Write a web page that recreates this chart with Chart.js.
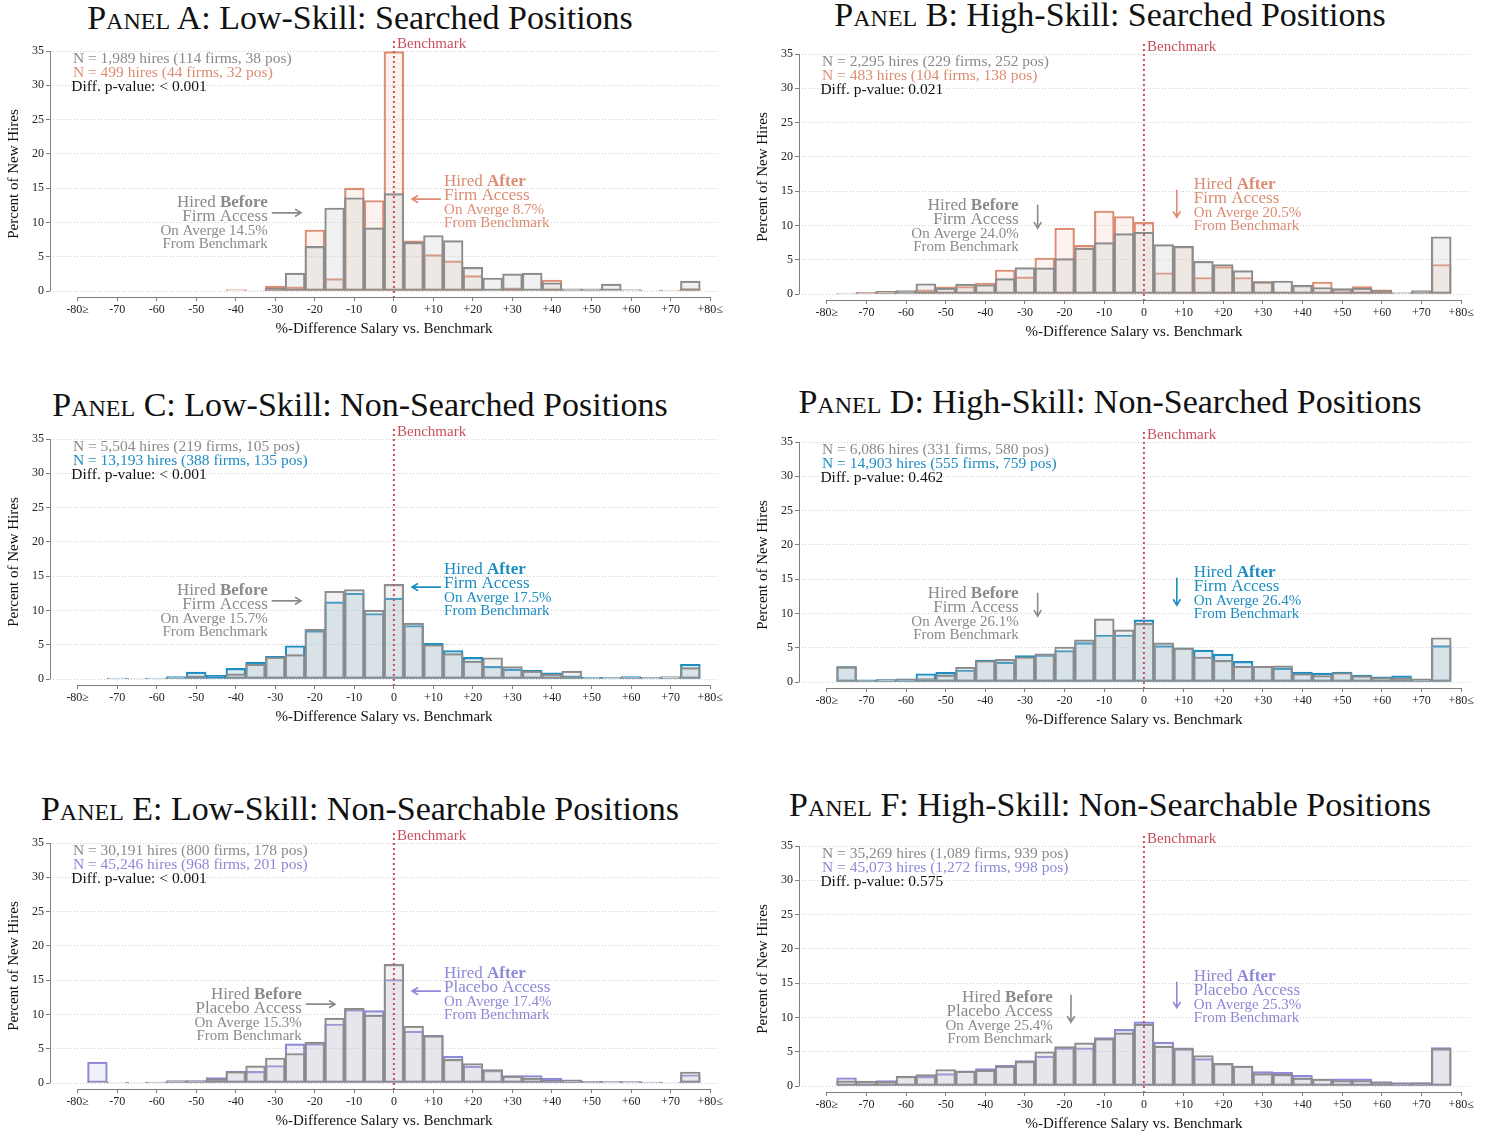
<!DOCTYPE html>
<html>
<head>
<meta charset="utf-8">
<script src="https://cdn.jsdelivr.net/npm/chart.js@4.4.0/dist/chart.umd.min.js"></script>
<style>
  body { margin: 0; background: #fff; }
  #page { position: relative; width: 1489px; height: 1132px; overflow: hidden; }
  .title { position: absolute; width: 720px; text-align: center; font-family: "Liberation Serif", serif; font-size: 34px; line-height: 1; color: #111; white-space: nowrap; }
  .title span { font-variant: small-caps; }
  canvas { position: absolute; }
</style>
</head>
<body>
<div id="page">
  <div class="title" style="left:0; top:1px"><span>Panel</span> A: Low-Skill: Searched Positions</div>
  <div class="title" style="left:750px; top:-2px"><span>Panel</span> B: High-Skill: Searched Positions</div>
  <div class="title" style="left:0; top:388px"><span>Panel</span> C: Low-Skill: Non-Searched Positions</div>
  <div class="title" style="left:750px; top:385px"><span>Panel</span> D: High-Skill: Non-Searched Positions</div>
  <div class="title" style="left:0; top:792px"><span>Panel</span> E: Low-Skill: Non-Searchable Positions</div>
  <div class="title" style="left:750px; top:788px"><span>Panel</span> F: High-Skill: Non-Searchable Positions</div>
  <canvas id="panelA" width="740" height="345" style="left:0; top:0"></canvas>
  <canvas id="panelB" width="744" height="345" style="left:745px; top:3px"></canvas>
  <canvas id="panelC" width="740" height="345" style="left:0; top:388px"></canvas>
  <canvas id="panelD" width="744" height="345" style="left:745px; top:391px"></canvas>
  <canvas id="panelE" width="740" height="345" style="left:0; top:792px"></canvas>
  <canvas id="panelF" width="744" height="345" style="left:745px; top:795px"></canvas>
</div>
<script>
// bin centres (% difference vs benchmark), outer bins hold everything beyond
const bins = [-75, -70, -65, -60, -55, -50, -45, -40, -35, -30, -25, -20, -15, -10, -5, 0,
              5, 10, 15, 20, 25, 30, 35, 40, 45, 50, 55, 60, 65, 70, 75];
const xTicks = [-80, -70, -60, -50, -40, -30, -20, -10, 0, 10, 20, 30, 40, 50, 60, 70, 80];
const yTicks = [0, 5, 10, 15, 20, 25, 30, 35];

// percent of new hires per bin
const aBefore = [0, 0, 0, 0, 0, 0, 0, 0, 0.1, 0.45, 2.6, 6.5, 12.1, 13.6, 9.2, 14.2,
                 7.1, 8.1, 7.35, 3.45, 1.9, 2.5, 2.6, 1.2, 0.3, 0.3, 1.0, 0.2, 0.05, 0.05, 1.45];
const aAfter = [0, 0, 0, 0, 0, 0, 0, 0.2, 0, 0.7, 0.6, 8.9, 1.8, 15.0, 13.2, 34.9,
                7.3, 5.3, 4.4, 2.25, 0.2, 0.45, 0.2, 1.6, 0.1, 0.15, 0, 0, 0, 0.15, 0.35];
const bBefore = [0.15, 0.2, 0.4, 0.5, 1.5, 0.85, 1.45, 1.35, 2.25, 3.85, 3.8, 5.15, 6.7, 7.5, 8.8, 9.0,
                 7.2, 6.95, 4.75, 4.3, 3.4, 1.8, 1.9, 1.25, 0.95, 0.8, 0.85, 0.5, 0.2, 0.5, 8.35];
const bAfter = [0, 0.25, 0.25, 0.2, 0.6, 1.05, 1.1, 1.6, 3.5, 2.5, 5.25, 9.6, 7.1, 12.1, 11.3, 10.45,
                3.1, 7.0, 2.4, 4.0, 2.4, 1.8, 0.3, 1.3, 1.75, 0.7, 1.1, 0.6, 0.1, 0.2, 4.3];
const cBefore = [0, 0.1, 0.1, 0.1, 0.2, 0.45, 0.15, 0.75, 2.15, 3.2, 3.55, 7.25, 12.8, 13.05, 10.05, 13.8,
                 8.15, 5.0, 3.7, 2.6, 3.1, 1.8, 1.15, 0.7, 1.15, 0.15, 0.2, 0.25, 0.2, 0.35, 1.65];
const cAfter = [0, 0.15, 0.1, 0.15, 0.35, 1.0, 0.55, 1.55, 2.45, 3.3, 4.85, 7.05, 11.25, 12.5, 9.55, 11.8,
                7.8, 5.2, 4.15, 3.15, 1.85, 1.45, 1.25, 0.9, 0.45, 0.25, 0.2, 0.35, 0.2, 0.15, 2.15];
const dBefore = [2.25, 0.25, 0.35, 0.4, 0.5, 1.0, 2.15, 3.1, 3.3, 3.65, 4.1, 5.1, 6.15, 9.2, 7.6, 8.55,
                 5.7, 4.95, 3.65, 3.15, 2.3, 2.3, 2.35, 1.2, 0.95, 1.35, 0.9, 0.65, 0.6, 0.45, 6.45];
const dAfter = [2.25, 0.3, 0.35, 0.45, 1.2, 1.4, 1.75, 3.2, 2.9, 3.85, 3.95, 4.6, 5.75, 6.85, 6.85, 9.05,
                5.3, 5.0, 4.65, 4.05, 3.0, 2.3, 2.0, 1.45, 1.3, 1.45, 1.0, 0.75, 0.9, 0.35, 5.3];
const eBefore = [0.2, 0.1, 0.1, 0.15, 0.35, 0.3, 0.6, 1.65, 2.5, 3.65, 4.3, 5.95, 9.45, 10.9, 9.9, 17.3,
                 8.3, 6.9, 3.45, 2.85, 1.95, 1.0, 0.7, 0.4, 0.4, 0.25, 0.2, 0.2, 0.15, 0.1, 1.6];
const eAfter = [3.05, 0.1, 0.1, 0.15, 0.25, 0.35, 0.8, 1.75, 1.7, 2.55, 5.7, 5.75, 8.6, 10.7, 10.55, 15.1,
                7.55, 6.95, 3.9, 2.45, 1.85, 1.1, 1.1, 0.7, 0.45, 0.25, 0.2, 0.2, 0.15, 0.1, 1.2];
const fBefore = [0.75, 0.7, 0.65, 1.4, 1.65, 2.4, 2.15, 2.3, 2.9, 3.6, 5.0, 5.75, 6.3, 6.9, 7.75, 9.0,
                 5.8, 5.45, 4.45, 3.3, 2.9, 1.8, 1.7, 1.15, 1.0, 0.8, 0.8, 0.55, 0.4, 0.45, 5.45];
const fAfter = [1.2, 0.35, 0.8, 1.45, 1.4, 1.8, 2.2, 2.55, 3.0, 3.7, 4.35, 5.55, 5.55, 7.05, 8.25, 9.35,
                6.4, 5.55, 4.0, 3.3, 2.9, 2.1, 2.0, 1.55, 1.0, 1.05, 1.05, 0.65, 0.5, 0.5, 5.6];

const FONT = '"Liberation Serif", "Times New Roman", serif';
const GRAY = "#8a8a8a", GRAY_TEXT = "#8a8a8a", GRAY_FILL = "rgba(200,200,200,0.25)";
const ORANGE = "#dc8c72", ORANGE_FILL = "rgba(236,170,150,0.14)";
const BLUE = "#1c8dc2", BLUE_FILL = "rgba(110,165,195,0.22)";
const PURPLE = "#8d89d6", PURPLE_FILL = "rgba(170,170,215,0.18)";
const RED = "#c8505c";

function richText(ctx, parts, x, y, align, size, color) {
    let w = 0;
    parts.forEach(([t, bold]) => {
        ctx.font = (bold ? "bold " : "") + size + "px " + FONT;
        w += ctx.measureText(t).width;
    });
    let cx = align === "right" ? x - w : x;
    ctx.fillStyle = color;
    ctx.textAlign = "left";
    ctx.textBaseline = "middle";
    parts.forEach(([t, bold]) => {
        ctx.font = (bold ? "bold " : "") + size + "px " + FONT;
        ctx.fillText(t, cx, y);
        cx += ctx.measureText(t).width;
    });
}

function arrow(ctx, x1, y1, x2, y2, color) {
    const a = Math.atan2(y2 - y1, x2 - x1);
    const h = 7;
    ctx.strokeStyle = color;
    ctx.lineWidth = 1.6;
    ctx.beginPath();
    ctx.moveTo(x1, y1);
    ctx.lineTo(x2, y2);
    ctx.moveTo(x2 - h * Math.cos(a - 0.55), y2 - h * Math.sin(a - 0.55));
    ctx.lineTo(x2, y2);
    ctx.lineTo(x2 - h * Math.cos(a + 0.55), y2 - h * Math.sin(a + 0.55));
    ctx.stroke();
}

// axes, benchmark line and the text notes, placed in data units
function notesPlugin(n) {
    return {
        id: "notes",
        afterDatasetsDraw(chart) {
            const { ctx, chartArea, scales } = chart;
            const px = (v) => scales.x.getPixelForValue(v);
            const py = (v) => scales.y.getPixelForValue(v);
            ctx.save();
            ctx.strokeStyle = "#7f7f7f";
            ctx.lineWidth = 1;
            ctx.beginPath();
            ctx.moveTo(chartArea.left + 0.5, py(0));
            ctx.lineTo(chartArea.left + 0.5, py(35));
            ctx.moveTo(px(-80), chartArea.bottom + 0.5);
            ctx.lineTo(px(80), chartArea.bottom + 0.5);
            ctx.stroke();

            ctx.strokeStyle = RED;
            ctx.lineWidth = 2;
            ctx.setLineDash([2, 3]);
            ctx.beginPath();
            ctx.moveTo(px(0), chartArea.top - 10);
            ctx.lineTo(px(0), chartArea.bottom);
            ctx.stroke();
            ctx.setLineDash([]);
            richText(ctx, [["Benchmark", false]], px(0.8), py(36), "left", 15, RED);

            richText(ctx, [[n.nBefore, false]], px(-81.2), py(33.8), "left", 15.5, GRAY_TEXT);
            richText(ctx, [[n.nAfter, false]], px(-81.2), py(31.8), "left", 15.5, n.color);
            richText(ctx, [[n.pval, false]], px(-81.6), py(29.75), "left", 15.5, "#111");

            const bx = px(n.beforeX), ax = px(n.afterX);
            richText(ctx, [["Hired ", false], ["Before", true]], bx, py(12.83), "right", 17, GRAY_TEXT);
            richText(ctx, [[n.access, false]], bx, py(10.8), "right", 17, GRAY_TEXT);
            richText(ctx, [[n.avgBefore, false]], bx, py(8.8), "right", 15, GRAY_TEXT);
            richText(ctx, [["From Benchmark", false]], bx, py(6.85), "right", 15, GRAY_TEXT);
            richText(ctx, [["Hired ", false], ["After", true]], ax, py(15.9), "left", 17, n.color);
            richText(ctx, [[n.access, false]], ax, py(13.85), "left", 17, n.color);
            richText(ctx, [[n.avgAfter, false]], ax, py(11.8), "left", 15, n.color);
            richText(ctx, [["From Benchmark", false]], ax, py(9.9), "left", 15, n.color);

            const b = n.beforeArrow, a = n.afterArrow;
            arrow(ctx, px(b[0]), py(b[1]), px(b[2]), py(b[3]), GRAY);
            arrow(ctx, px(a[0]), py(a[1]), px(a[2]), py(a[3]), n.color);
            ctx.restore();
        },
    };
}

function makePanel(id, before, after, color, fill, yWidth, padRight, n) {
    const ctx = document.getElementById(id).getContext("2d");
    n.color = color;
    return new Chart(ctx, {
        type: "bar",
        data: {
            labels: bins,
            datasets: [
                { data: before, backgroundColor: GRAY_FILL, borderColor: GRAY, borderWidth: 1.5, borderSkipped: false },
                { data: after, backgroundColor: fill, borderColor: color, borderWidth: 1.5, borderSkipped: false },
            ],
        },
        options: {
            responsive: false,
            animation: false,
            layout: { padding: { top: 51, right: padRight, left: 0, bottom: 0 } },
            datasets: { bar: { grouped: false, barPercentage: 1, categoryPercentage: 1 } },
            plugins: { legend: { display: false }, tooltip: { enabled: false } },
            scales: {
                x: {
                    type: "linear",
                    offset: false,
                    min: -87,
                    max: 82,
                    afterBuildTicks: (axis) => { axis.ticks = xTicks.map((v) => ({ value: v })); },
                    afterFit: (axis) => { axis.height = 48; },
                    grid: { offset: false, drawOnChartArea: false, drawTicks: true, tickLength: 4, color: "#7f7f7f" },
                    border: { display: false },
                    ticks: {
                        autoSkip: false,
                        maxRotation: 0,
                        padding: 2,
                        color: "#222",
                        font: { family: FONT, size: 12 },
                        callback: (v) => (v === -80 ? "-80≥" : v === 80 ? "+80≤" : v > 0 ? "+" + v : String(v)),
                    },
                    title: {
                        display: true,
                        text: "%-Difference Salary vs. Benchmark",
                        color: "#111",
                        font: { family: FONT, size: 15 },
                        padding: { top: 0, bottom: 7 },
                    },
                },
                y: {
                    min: -0.875,
                    max: 35,
                    afterBuildTicks: (axis) => { axis.ticks = yTicks.map((v) => ({ value: v })); },
                    afterFit: (axis) => { axis.width = yWidth; },
                    grid: { color: "#cfcfcf", tickLength: 4, tickColor: "#7f7f7f", tickBorderDash: [] },
                    border: { display: false, dash: [1, 2] },
                    ticks: { padding: 2, color: "#222", font: { family: FONT, size: 12 } },
                    title: {
                        display: true,
                        text: "Percent of New Hires",
                        color: "#111",
                        font: { family: FONT, size: 15 },
                        padding: { top: yWidth - 45, bottom: 0 },
                    },
                },
            },
        },
        plugins: [notesPlugin(n)],
    });
}

const charts = [];
charts.push(makePanel("panelA", aBefore, aAfter, ORANGE, ORANGE_FILL, 50, 22, {
    nBefore: "N = 1,989 hires (114 firms, 38 pos)", nAfter: "N = 499 hires (44 firms, 32 pos)",
    pval: "Diff. p-value: < 0.001", access: "Firm Access",
    avgBefore: "On Averge 14.5%", avgAfter: "On Averge 8.7%",
    beforeX: -31.9, afterX: 12.7,
    beforeArrow: [-30.9, 11.4, -23.5, 11.4], afterArrow: [11.9, 13.4, 4.6, 13.4],
}));
charts.push(makePanel("panelB", bBefore, bAfter, ORANGE, ORANGE_FILL, 54, 20, {
    nBefore: "N = 2,295 hires (229 firms, 252 pos)", nAfter: "N = 483 hires (104 firms, 138 pos)",
    pval: "Diff. p-value: 0.021", access: "Firm Access",
    avgBefore: "On Averge 24.0%", avgAfter: "On Averge 20.5%",
    beforeX: -31.6, afterX: 12.6,
    beforeArrow: [-26.8, 13.0, -26.8, 9.6], afterArrow: [8.3, 15.2, 8.3, 11.2],
}));
charts.push(makePanel("panelC", cBefore, cAfter, BLUE, BLUE_FILL, 50, 22, {
    nBefore: "N = 5,504 hires (219 firms, 105 pos)", nAfter: "N = 13,193 hires (388 firms, 135 pos)",
    pval: "Diff. p-value: < 0.001", access: "Firm Access",
    avgBefore: "On Averge 15.7%", avgAfter: "On Averge 17.5%",
    beforeX: -31.9, afterX: 12.7,
    beforeArrow: [-30.9, 11.4, -23.5, 11.4], afterArrow: [11.9, 13.4, 4.6, 13.4],
}));
charts.push(makePanel("panelD", dBefore, dAfter, BLUE, BLUE_FILL, 54, 20, {
    nBefore: "N = 6,086 hires (331 firms, 580 pos)", nAfter: "N = 14,903 hires (555 firms, 759 pos)",
    pval: "Diff. p-value: 0.462", access: "Firm Access",
    avgBefore: "On Averge 26.1%", avgAfter: "On Averge 26.4%",
    beforeX: -31.6, afterX: 12.6,
    beforeArrow: [-26.8, 13.0, -26.8, 9.6], afterArrow: [8.3, 15.2, 8.3, 11.2],
}));
charts.push(makePanel("panelE", eBefore, eAfter, PURPLE, PURPLE_FILL, 50, 22, {
    nBefore: "N = 30,191 hires (800 firms, 178 pos)", nAfter: "N = 45,246 hires (968 firms, 201 pos)",
    pval: "Diff. p-value: < 0.001", access: "Placebo Access",
    avgBefore: "On Averge 15.3%", avgAfter: "On Averge 17.4%",
    beforeX: -23.3, afterX: 12.7,
    beforeArrow: [-22.3, 11.5, -14.9, 11.5], afterArrow: [11.9, 13.4, 4.6, 13.4],
}));
charts.push(makePanel("panelF", fBefore, fAfter, PURPLE, PURPLE_FILL, 54, 20, {
    nBefore: "N = 35,269 hires (1,089 firms, 939 pos)", nAfter: "N = 45,073 hires (1,272 firms, 998 pos)",
    pval: "Diff. p-value: 0.575", access: "Placebo Access",
    avgBefore: "On Averge 25.4%", avgAfter: "On Averge 25.3%",
    beforeX: -23.0, afterX: 12.6,
    beforeArrow: [-18.4, 13.3, -18.4, 9.3], afterArrow: [8.3, 15.2, 8.3, 11.4],
}));
</script>
</body>
</html>
